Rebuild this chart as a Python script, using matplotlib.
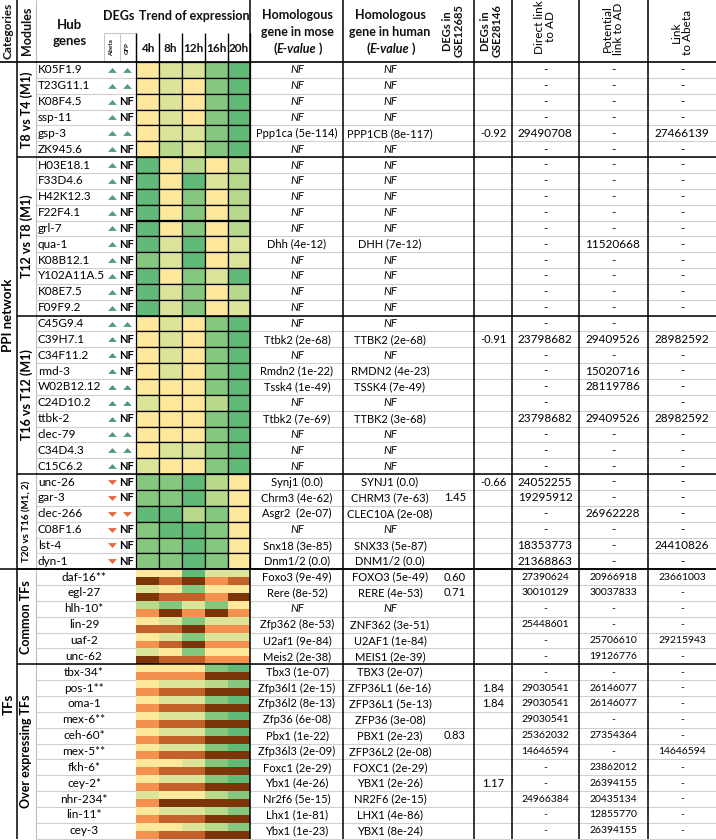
import matplotlib.pyplot as plt
from matplotlib.patches import Rectangle

plt.rcParams['font.family'] = ['Lato', 'DejaVu Sans']

# ---------------- data ----------------
categories = ['PPI network', 'TFs']
category_rows = [32, 17]
modules = ['T8 vs T4 (M1)', 'T12 vs T8 (M1)', 'T16 vs T12 (M1)',
           'T20 vs T16 (M1, 2)', 'Common TFs', 'Over expressing TFs']
module_rows = [6, 10, 10, 6, 6, 11]
hours = ['4h', '8h', '12h', '16h', '20h']

hub_genes = ['K05F1.9', 'T23G11.1', 'K08F4.5', 'ssp-11', 'gsp-3', 'ZK945.6',
             'H03E18.1', 'F33D4.6', 'H42K12.3', 'F22F4.1', 'grl-7', 'qua-1',
             'K08B12.1', 'Y102A11A.5', 'K08E7.5', 'F09F9.2',
             'C45G9.4', 'C39H7.1', 'C34F11.2', 'rmd-3', 'W02B12.12', 'C24D10.2',
             'ttbk-2', 'clec-79', 'C34D4.3', 'C15C6.2',
             'unc-26', 'gar-3', 'clec-266', 'C08F1.6', 'lst-4', 'dyn-1',
             'daf-16**', 'egl-27', 'hlh-10*', 'lin-29', 'uaf-2', 'unc-62',
             'tbx-34*', 'pos-1**', 'oma-1', 'mex-6**', 'ceh-60*', 'mex-5**',
             'fkh-6*', 'cey-2*', 'nhr-234*', 'lin-11*', 'cey-3']

deg_abeta = ['up'] * 26 + ['down'] * 6
deg_gfp = ['up', 'up', 'NF', 'NF', 'up', 'NF',
           'NF', 'NF', 'NF', 'NF', 'NF', 'NF', 'NF', 'NF', 'NF', 'NF',
           'up', 'NF', 'NF', 'NF', 'up', 'up', 'NF', 'up', 'up', 'NF',
           'NF', 'NF', 'down', 'NF', 'NF', 'NF']

# expression level per hour (0 = yellow ... 4 = green); TFs: upper half
trend = [[0, 1, 1, 3, 4], [0, 1, 0, 3, 4], [0, 1, 0, 3, 4], [0, 1, 0, 3, 4],
         [0, 1, 1, 3, 4], [0, 2, 1, 3, 4],
         [4, 0, 2, 0, 2], [4, 0, 4, 1, 2], [4, 0, 3, 0, 2], [4, 0, 3, 0, 2],
         [4, 0, 3, 0, 2], [4, 1, 4, 0, 1], [3, 1, 4, 0, 1], [4, 0, 3, 1, 4],
         [4, 1, 3, 0, 2], [4, 1, 3, 0, 1],
         [0, 1, 0, 3, 4], [0, 1, 0, 3, 4], [0, 1, 0, 3, 4], [0, 1, 0, 3, 4],
         [0, 0, 0, 3, 4], [1, 0, 0, 2, 4], [0, 0, 0, 3, 4], [0, 0, 0, 3, 4],
         [0, 1, 1, 3, 4], [1, 0, 0, 3, 4],
         [3, 3, 4, 2, 0], [3, 3, 4, 2, 0], [4, 4, 2, 3, 0], [3, 4, 4, 3, 0],
         [3, 3, 4, 3, 0], [3, 3, 4, 3, 0],
         [0, 0, 4, 1, 1], [1, 0, 3, 0, 0], [2, 3, 1, 3, 0], [0, 1, 3, 1, 1],
         [0, 1, 3, 1, 1], [1, 0, 3, 0, 0],
         [0, 0, 0, 3, 4], [0, 1, 1, 2, 3], [0, 1, 1, 3, 4], [0, 1, 1, 3, 4],
         [0, 1, 1, 3, 4], [0, 1, 1, 3, 4], [0, 0, 1, 3, 4], [0, 1, 1, 3, 4],
         [1, 0, 0, 2, 3], [0, 1, 1, 2, 3], [0, 0, 1, 2, 3]]
# TFs: lower half (0 = yellow, 1 = orange ... 3 = dark brown)
trend_low = [[3, 2, 3, 1, 2], [3, 2, 2, 1, 3], [1, 3, 1, 3, 1], [2, 2, 3, 1, 1],
             [1, 2, 3, 1, 1], [3, 2, 2, 1, 1],
             [1, 1, 1, 3, 3], [1, 2, 2, 3, 3], [1, 2, 2, 3, 3], [1, 2, 2, 3, 3],
             [1, 2, 2, 3, 3], [1, 2, 2, 3, 3], [1, 2, 2, 3, 3], [1, 2, 2, 3, 3],
             [1, 3, 3, 3, 3], [1, 2, 2, 3, 3], [1, 2, 2, 3, 3]]

mouse = ['NF', 'NF', 'NF', 'NF', 'Ppp1ca (5e-114)', 'NF',
         'NF', 'NF', 'NF', 'NF', 'NF', 'Dhh (4e-12)', 'NF', 'NF', 'NF', 'NF',
         'NF', 'Ttbk2 (2e-68)', 'NF', 'Rmdn2 (1e-22)', 'Tssk4 (1e-49)', 'NF',
         'Ttbk2 (7e-69)', 'NF', 'NF', 'NF',
         'Synj1 (0.0)', 'Chrm3 (4e-62)', 'Asgr2  (2e-07)', 'NF', 'Snx18 (3e-85)',
         'Dnm1/2 (0.0)',
         'Foxo3 (9e-49)', 'Rere (8e-52)', 'NF', 'Zfp362 (8e-53)', 'U2af1 (9e-84)',
         'Meis2 (2e-38)',
         'Tbx3 (1e-07)', 'Zfp36l1 (2e-15)', 'Zfp36l2 (8e-13)', 'Zfp36 (6e-08)',
         'Pbx1 (1e-22)', 'Zfp36l3 (2e-09)', 'Foxc1 (2e-29)', 'Ybx1 (4e-26)',
         'Nr2f6 (5e-15)', 'Lhx1 (1e-81)', 'Ybx1 (1e-23)']
human = ['NF', 'NF', 'NF', 'NF', 'PPP1CB (8e-117)', 'NF',
         'NF', 'NF', 'NF', 'NF', 'NF', 'DHH (7e-12)', 'NF', 'NF', 'NF', 'NF',
         'NF', 'TTBK2 (2e-68)', 'NF', 'RMDN2 (4e-23)', 'TSSK4 (7e-49)', 'NF',
         'TTBK2 (3e-68)', 'NF', 'NF', 'NF',
         'SYNJ1 (0.0)', 'CHRM3 (7e-63)', 'CLEC10A (2e-08)', 'NF', 'SNX33 (5e-87)',
         'DNM1/2 (0.0)',
         'FOXO3 (5e-49)', 'RERE (4e-53)', 'NF', 'ZNF362 (3e-51)', 'U2AF1 (1e-84)',
         'MEIS1 (2e-39)',
         'TBX3 (2e-07)', 'ZFP36L1 (6e-16)', 'ZFP36L1 (5e-13)', 'ZFP36 (3e-08)',
         'PBX1 (2e-23)', 'ZFP36L2 (2e-08)', 'FOXC1 (2e-29)', 'YBX1 (2e-26)',
         'NR2F6 (2e-15)', 'LHX1 (4e-86)', 'YBX1 (8e-24)']

gse12685 = {'gar-3': '1.45', 'daf-16**': '0.60', 'egl-27': '0.71', 'ceh-60*': '0.83'}
gse28146 = {'gsp-3': '-0.92', 'C39H7.1': '-0.91', 'unc-26': '-0.66',
            'pos-1**': '1.84', 'oma-1': '1.84', 'cey-2*': '1.17'}

direct_ad = ['-', '-', '-', '-', '29490708', '-',
             '-', '-', '-', '-', '-', '-', '-', '-', '-', '-',
             '-', '23798682', '-', '-', '-', '-', '23798682', '-', '-', '-',
             '24052255', '19295912', '-', '-', '18353773', '21368863',
             '27390624', '30010129', '-', '25448601', '-', '-',
             '-', '29030541', '29030541', '29030541', '25362032', '14646594',
             '-', '-', '24966384', '-', '-']
potential_ad = ['-', '-', '-', '-', '-', '-',
                '-', '-', '-', '-', '-', '11520668', '-', '-', '-', '-',
                '-', '29409526', '-', '15020716', '28119786', '', '29409526',
                '-', '-', '-',
                '-', '-', '26962228', '-', '-', '-',
                '20966918', '30037833', '-', '-', '25706610', '19126776',
                '-', '26146077', '26146077', '-', '27354364', '-', '23862012',
                '26394155', '20435134', '12855770', '26394155']
link_abeta = ['-', '-', '-', '-', '27466139', '-',
              '-', '-', '-', '-', '-', '-', '-', '-', '-', '-',
              '', '28982592', '-', '-', '-', '-', '28982592', '-', '-', '-',
              '-', '-', '-', '-', '24410826', '-',
              '23661003', '-', '-', '-', '29215943', '-',
              '-', '-', '-', '-', '-', '14646594', '-', '-', '-', '-', '-']

# ---------------- styles / layout ----------------
greens = ['#FEE89C', '#DCE49A', '#B9D98C', '#86C77F', '#62BA78']
browns = ['#FDE39A', '#F4914F', '#C2622A', '#7B3509']
up_col, down_col = '#4E9C7E', '#E2673A'

top, row_h = 62.0, 15.85
x_trend = [136, 159, 182, 205, 228, 250]
cx_hub, cx_tf, cx_abeta, cx_gfp = 38, 84, 112, 127
cx_mouse, cx_human, cx_12685, cx_28146 = 297, 390, 455, 493
cx_direct, cx_pot, cx_abl = 545, 613, 682
dark_v = [17, 250, 343, 474, 512, 579, 648]

fig = plt.figure(figsize=(7.16, 8.40), dpi=100)
ax = fig.add_axes([0, 0, 1, 1])
ax.set_xlim(0, 716)
ax.set_ylim(840, 0)
ax.axis('off')

n_rows = len(hub_genes)
n_ppi = category_rows[0]
bottom = top + n_rows * row_h


def ry(i):
    return top + i * row_h


def rc(i):
    return top + (i + 0.5) * row_h


tri_up = [(-1, -0.55), (1, -0.55), (0, 0.55), (-1, -0.55)]
tri_dn = [(-1, 0.55), (1, 0.55), (0, -0.55), (-1, 0.55)]

# ---- header ----
hb = dict(fontweight='bold', ha='center', va='center', color='#111111')
ax.text(8.5, 31, 'Categories', rotation=90, fontsize=8.5, **hb)
ax.text(26.5, 31, 'Modules', rotation=90, fontsize=9, **hb)
ax.text(70, 33, 'Hub\ngenes', fontsize=9.5, linespacing=1.35, **hb)
ax.text(119, 16, 'DEGs', fontsize=9, **hb)
ax.text(194, 16, 'Trend of expression', fontsize=9, **hb)
ax.text(cx_abeta, 48, 'Abeta', rotation=90, fontsize=4.5, **hb)
ax.text(cx_gfp, 48, 'GFP', rotation=90, fontsize=4.5, **hb)
for k, h in enumerate(hours):
    ax.text((x_trend[k] + x_trend[k + 1]) / 2, 48, h, fontsize=8.5, **hb)
for cx, sp in [(cx_mouse, 'mose'), (cx_human, 'human')]:
    ax.text(cx, 15, 'Homologous', fontsize=9, **hb)
    ax.text(cx, 32, 'gene in ' + sp, fontsize=9, **hb)
    ax.text(cx - 20, 49, '(', fontsize=9, **dict(hb, ha='right'))
    ax.text(cx - 1, 49, 'E-value', fontsize=9, style='italic', **hb)
    ax.text(cx + 19, 49, ' )', fontsize=9, **dict(hb, ha='left'))
ax.text(cx_12685 - 2, 31, 'DEGs in\nGSE12685', rotation=90, fontsize=8,
        linespacing=1.1, **hb)
ax.text(cx_28146 - 2, 31, 'DEGs in\nGSE28146', rotation=90, fontsize=8,
        linespacing=1.1, **hb)
ax.text(cx_direct, 27, 'Direct link\nto AD', rotation=90, fontsize=8.5,
        linespacing=1.1, ha='center', va='center')
ax.text(cx_pot, 29, 'Potential\nlink to AD', rotation=90, fontsize=8.5,
        linespacing=1.1, ha='center', va='center')
ax.text(cx_abl, 32, 'Link\nto Abeta', rotation=90, fontsize=8.5,
        linespacing=1.1, ha='center', va='center')

ax.add_patch(Rectangle((104, 33), 32, top - 33, fill=False, ec='#c8c8c8', lw=0.8))
ax.vlines(120, 33, top, color='#c8c8c8', lw=0.8)
ax.vlines(x_trend, 33, top, color='black', lw=1.0)

# ---- light grid ----
for i in range(1, n_rows + 1):
    ax.hlines(ry(i), 36, 716, color='#cfcfcf', lw=0.8, zorder=1)
ax.vlines(36, 0, bottom, color='#bdbdbd', lw=0.8, zorder=1)

# ---- heatmap ----
for i in range(n_rows):
    for k in range(5):
        x0, w = x_trend[k], x_trend[k + 1] - x_trend[k]
        if i < n_ppi:
            ax.add_patch(Rectangle((x0, ry(i)), w, row_h, fc=greens[trend[i][k]],
                                   ec='black', lw=0.9, zorder=3))
        else:
            ax.add_patch(Rectangle((x0, ry(i)), w, row_h / 2,
                                   fc=greens[trend[i][k]], ec='none', zorder=3))
            ax.add_patch(Rectangle((x0, ry(i) + row_h / 2), w, row_h / 2,
                                   fc=browns[trend_low[i - n_ppi][k]], ec='none',
                                   zorder=3))

# ---- row texts ----
for i, g in enumerate(hub_genes):
    y = rc(i)
    if i < n_ppi:
        ax.text(cx_hub, y, g, fontsize=8.5, ha='left', va='center')
        m = tri_up if deg_abeta[i] == 'up' else tri_dn
        c = up_col if deg_abeta[i] == 'up' else down_col
        ax.scatter([cx_abeta], [y], marker=m, s=40, color=c, lw=0, zorder=4)
        if deg_gfp[i] == 'NF':
            ax.text(cx_gfp, y, 'NF', fontsize=8, fontweight='bold',
                    ha='center', va='center')
        else:
            m = tri_up if deg_gfp[i] == 'up' else tri_dn
            c = up_col if deg_gfp[i] == 'up' else down_col
            ax.scatter([cx_gfp], [y], marker=m, s=40, color=c, lw=0, zorder=4)
    else:
        ax.text(cx_tf, y, g, fontsize=8.5, ha='center', va='center')
    for cx, txt in [(cx_mouse, mouse[i]), (cx_human, human[i])]:
        if txt == 'NF':
            ax.text(cx, y, 'NF', fontsize=8, style='italic', ha='center',
                    va='center')
        else:
            ax.text(cx, y, txt, fontsize=8, ha='center', va='center')
    if g in gse12685:
        ax.text(cx_12685, y, gse12685[g], fontsize=8, ha='center', va='center')
    if g in gse28146:
        ax.text(cx_28146, y, gse28146[g], fontsize=8, ha='center', va='center')
    fs = 8.5 if i < n_ppi else 7.5
    ax.text(cx_direct, y, direct_ad[i], fontsize=fs, ha='center', va='center')
    ax.text(cx_pot, y, potential_ad[i], fontsize=fs, ha='center', va='center')
    ax.text(cx_abl, y, link_abeta[i], fontsize=fs, ha='center', va='center')

# ---- modules / categories ----
start = 0
for name, n in zip(modules, module_rows):
    fs = 7 if 'T20' in name else 9
    ax.text(26.5, (ry(start) + ry(start + n)) / 2, name, rotation=90,
            fontsize=fs, fontweight='bold', ha='center', va='center')
    if start > 0:
        ax.hlines(ry(start), 17, 716, color='black', lw=1.1, zorder=5)
    start += n
start = 0
for name, n in zip(categories, category_rows):
    ax.text(8.5, (ry(start) + ry(start + n)) / 2, name, rotation=90,
            fontsize=9.5, fontweight='bold', ha='center', va='center')
    if start > 0:
        ax.hlines(ry(start), 0, 716, color='black', lw=1.1, zorder=5)
    start += n

ax.hlines(top, 0, 716, color='black', lw=1.2, zorder=5)
ax.vlines(dark_v, 0, bottom, color='black', lw=1.1, zorder=5)

fig.savefig('out.png', dpi=100)
